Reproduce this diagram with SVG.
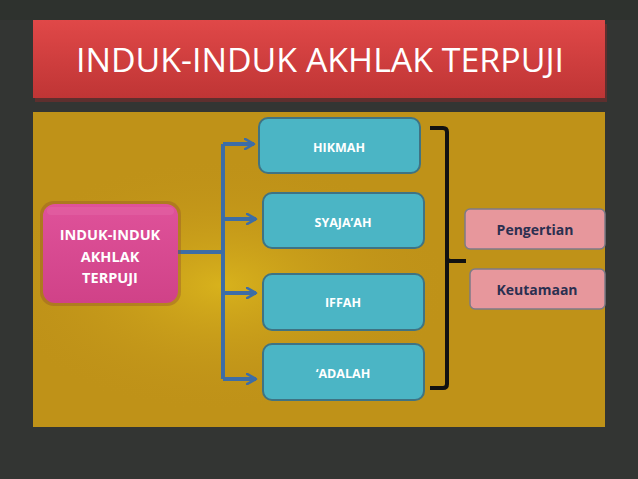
<svg xmlns="http://www.w3.org/2000/svg" width="638" height="479" viewBox="0 0 638 479">
<defs>
<linearGradient id="red" x1="0" y1="0" x2="0" y2="1"><stop offset="0" stop-color="#e04848"/><stop offset="1" stop-color="#bf3535"/></linearGradient>
<radialGradient id="glow" cx="0.33" cy="0.55" r="0.4"><stop offset="0" stop-color="#d8b21c"/><stop offset="1" stop-color="#c0921a" stop-opacity="0"/></radialGradient>
<linearGradient id="pink" x1="0" y1="0" x2="0" y2="1"><stop offset="0" stop-color="#df529a"/><stop offset="1" stop-color="#d04288"/></linearGradient>
<marker id="arr" viewBox="0 0 10 10" refX="8" refY="5" markerWidth="3.2" markerHeight="3.2" orient="auto" markerUnits="strokeWidth"><path d="M1,1 L8,5 L1,9" fill="none" stroke="#3d6da6" stroke-width="2" stroke-linecap="round" stroke-linejoin="round"/></marker>
<style>
.teal{fill:#4bb5c5;stroke:#3f7383;stroke-width:2}
.tt{font-family:"Open Sans","Liberation Sans",sans-serif;font-weight:bold;font-size:12.5px;fill:#ffffff;text-anchor:middle}
.pk{fill:#e7979c;stroke:#7d7b86;stroke-width:1.5}
.pt{font-family:"Open Sans","Liberation Sans",sans-serif;font-weight:bold;font-size:14px;fill:#2b2f50;text-anchor:middle}
.con{fill:none;stroke:#3d6da6;stroke-width:4}
</style>
</defs>
<rect width="638" height="479" fill="#333533"/>
<rect x="0" y="0" width="638" height="20" fill="#2e322e"/>
<g id="title">
<rect x="34" y="22" width="572" height="78" fill="#8a2a2a" opacity="0.5" transform="translate(1,2)"/>
<rect x="33" y="20" width="572" height="78" fill="url(#red)"/>
<text x="320" y="72" font-family="'Open Sans','Liberation Sans',sans-serif" font-size="33" fill="#ffffff" text-anchor="middle" textLength="488" lengthAdjust="spacingAndGlyphs">INDUK-INDUK AKHLAK TERPUJI</text>
</g>
<g id="panel">
<rect x="33" y="112" width="572" height="315" fill="#bf9218"/>
<rect x="33" y="112" width="572" height="315" fill="url(#glow)"/>
</g>
<g id="connectors">
<path class="con" d="M178,252 H223 M223,144 V379"/>
<path class="con" d="M223,144 H254" marker-end="url(#arr)"/>
<path class="con" d="M223,219 H256" marker-end="url(#arr)"/>
<path class="con" d="M223,293 H256" marker-end="url(#arr)"/>
<path class="con" d="M223,379 H256" marker-end="url(#arr)"/>
<path d="M430,128 H443 Q447,128 447,132 V258 Q447,261 451,261 H466 M447,258 Q447,264 447,266 V384 Q447,388 443,388 H430" fill="none" stroke="#111111" stroke-width="4"/>
</g>
<g id="main">
<rect x="40" y="201" width="141" height="105" rx="14" fill="#8c4a2a" opacity="0.35"/>
<rect x="43" y="204" width="135" height="99" rx="12" fill="url(#pink)"/>
<rect x="47" y="207" width="127" height="8" rx="4" fill="#ec7ab2" opacity="0.25"/>
<g font-family="'Open Sans','Liberation Sans',sans-serif" font-weight="bold" font-size="14.5" fill="#ffffff" text-anchor="middle">
<text x="110" y="240">INDUK-INDUK</text>
<text x="110" y="262">AKHLAK</text>
<text x="110" y="283">TERPUJI</text>
</g>
</g>
<g id="hikmah"><rect class="teal" x="259" y="118" width="161" height="55" rx="9"/><text class="tt" x="339" y="152">HIKMAH</text></g>
<g id="syajaah"><rect class="teal" x="263" y="193" width="161" height="55" rx="9"/><text class="tt" x="343" y="227">SYAJA’AH</text></g>
<g id="iffah"><rect class="teal" x="263" y="274" width="161" height="56" rx="9"/><text class="tt" x="343" y="307">IFFAH</text></g>
<g id="adalah"><rect class="teal" x="263" y="344" width="161" height="56" rx="9"/><text class="tt" x="343" y="378">‘ADALAH</text></g>
<g id="pengertian"><rect class="pk" x="465" y="209" width="140" height="40" rx="5"/><text class="pt" x="535" y="235">Pengertian</text></g>
<g id="keutamaan"><rect class="pk" x="470" y="269" width="135" height="40" rx="5"/><text class="pt" x="537" y="295">Keutamaan</text></g>
</svg>
